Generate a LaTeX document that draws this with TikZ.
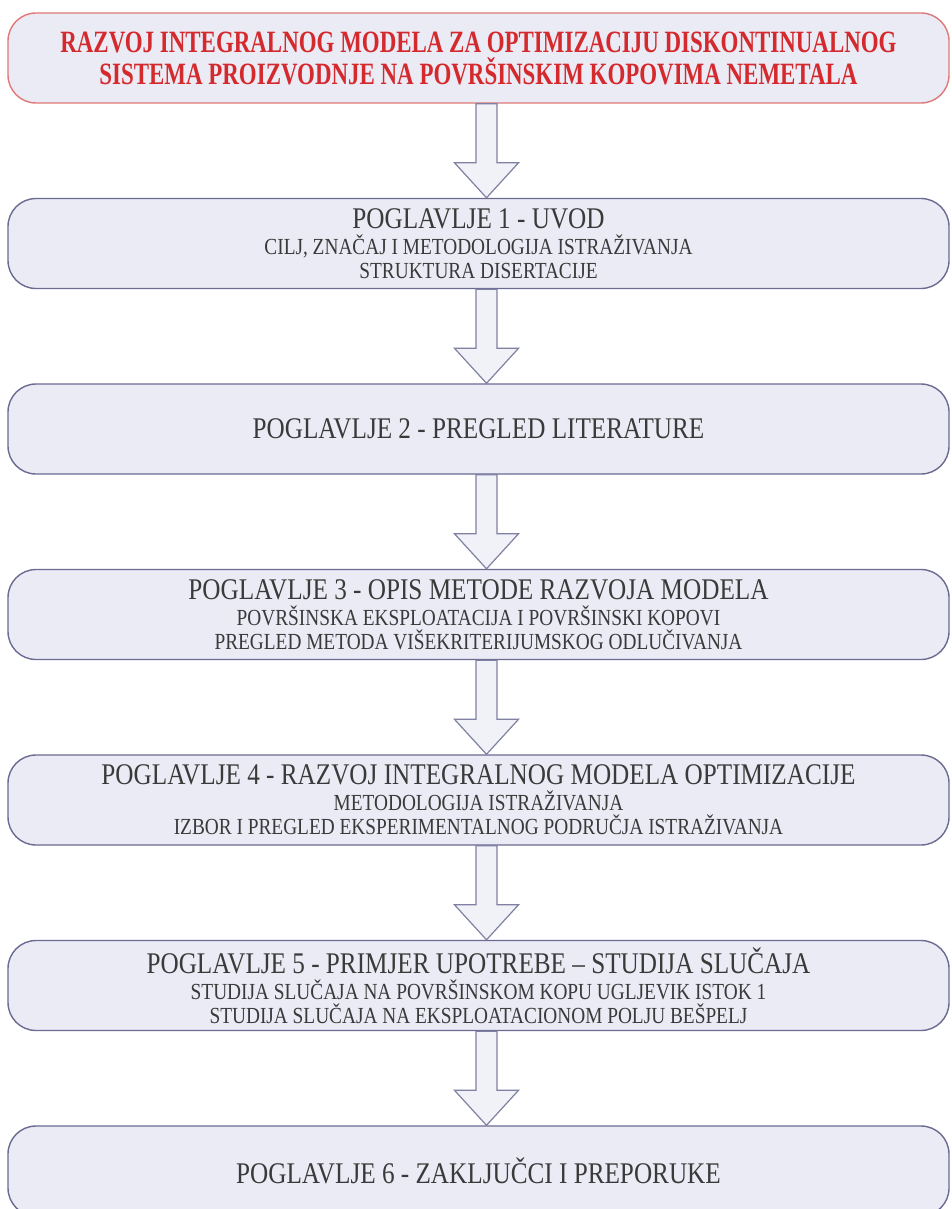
\documentclass[tikz,border=0pt]{standalone}
\usepackage{fontspec}
\setmainfont{Liberation Serif}[FakeStretch=0.84]
\newfontfamily\titlefont{Liberation Serif}[FakeStretch=0.74]
\usepackage{tikz}
\usetikzlibrary{calc}
\definecolor{boxfill}{HTML}{EBEBF5}
\definecolor{boxline}{HTML}{6A6A92}
\definecolor{titlered}{HTML}{D42A2E}
\definecolor{titleline}{HTML}{E07878}
\definecolor{txt}{HTML}{3A3A3A}
\tikzstyle{chapter} = [rectangle, draw=boxline, fill=boxfill, line width=1.4pt, rounded corners=28pt, minimum width=941pt, minimum height=90pt, align=center, text=txt, font=\fontsize{23}{24}\selectfont]
\tikzstyle{headline} = [chapter, draw=titleline, text=titlered, font=\titlefont\bfseries\fontsize{31}{32}\selectfont]
\tikzstyle{blockarrow} = [draw=boxline!85, fill=boxfill!70!white, line width=1.2pt, line join=miter]
\newcommand{\chead}[1]{{\fontsize{30}{30}\selectfont #1}}

\begin{document}
\begin{tikzpicture}[x=1pt, y=1pt, node distance=185.5pt]
        \useasboundingbox (0,0) rectangle (951,-1209);
        \node (title) [headline] at (478.5,-58) {
            RAZVOJ INTEGRALNOG MODELA ZA OPTIMIZACIJU DISKONTINUALNOG\\
            SISTEMA PROIZVODNJE NA POVRŠINSKIM KOPOVIMA NEMETALA
        };
        \node (ch1) [chapter, below of = title] {
            \chead{POGLAVLJE 1 - UVOD}\\[2pt]
            CILJ, ZNAČAJ I METODOLOGIJA ISTRAŽIVANJA\\
            STRUKTURA DISERTACIJE
        };
        \node (ch2) [chapter, below of = ch1] {\chead{POGLAVLJE 2 - PREGLED LITERATURE}};
        \node (ch3) [chapter, below of = ch2] {
            \chead{POGLAVLJE 3 - OPIS METODE RAZVOJA MODELA}\\[2pt]
            POVRŠINSKA EKSPLOATACIJA I POVRŠINSKI KOPOVI\\
            PREGLED METODA VIŠEKRITERIJUMSKOG ODLUČIVANJA
        };
        \node (ch4) [chapter, below of = ch3] {
            \chead{POGLAVLJE 4 - RAZVOJ INTEGRALNOG MODELA OPTIMIZACIJE}\\[2pt]
            METODOLOGIJA ISTRAŽIVANJA\\
            IZBOR I PREGLED EKSPERIMENTALNOG PODRUČJA ISTRAŽIVANJA
        };
        \node (ch5) [chapter, below of = ch4] {
            \chead{POGLAVLJE 5 - PRIMJER UPOTREBE – STUDIJA SLUČAJA}\\[2pt]
            STUDIJA SLUČAJA NA POVRŠINSKOM KOPU UGLJEVIK ISTOK 1\\
            STUDIJA SLUČAJA NA EKSPLOATACIONOM POLJU BEŠPELJ
        };
        \node (ch6) [chapter, below of = ch5] {\chead{POGLAVLJE 6 - ZAKLJUČCI I PREPORUKE}};
        % block arrows between the boxes
        \foreach \a/\b in {title/ch1, ch1/ch2, ch2/ch3, ch3/ch4, ch4/ch5, ch5/ch6}
            \draw [blockarrow] ($(\a.south)+(-2.5,0)$) -- ($(\b.north)+(-2.5,35)$) -- ($(\b.north)+(-24,35)$)
                -- ($(\b.north)+(8,0)$) -- ($(\b.north)+(40,35)$) -- ($(\b.north)+(18.5,35)$)
                -- ($(\a.south)+(18.5,0)$) -- cycle;
    \end{tikzpicture}
\end{document}
